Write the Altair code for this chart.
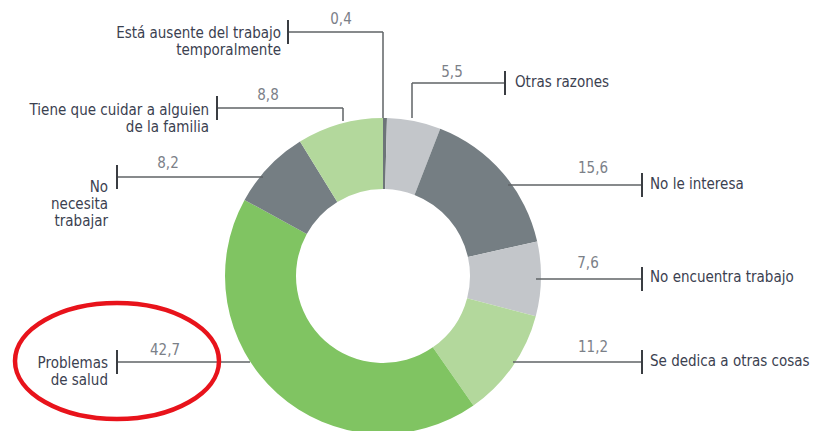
import altair as alt
import pandas as pd

# ---- data ----
categories = [
    "Está ausente del trabajo temporalmente",
    "Otras razones",
    "No le interesa",
    "No encuentra trabajo",
    "Se dedica a otras cosas",
    "Problemas de salud",
    "No necesita trabajar",
    "Tiene que cuidar a alguien de la familia",
]
values = [0.4, 5.5, 15.6, 7.6, 11.2, 42.7, 8.2, 8.8]
value_labels = ["0,4", "5,5", "15,6", "7,6", "11,2", "42,7", "8,2", "8,8"]
label_texts = [
    "Está ausente del trabajo\ntemporalmente",
    "Otras razones",
    "No le interesa",
    "No encuentra trabajo",
    "Se dedica a otras cosas",
    "Problemas\nde salud",
    "No\nnecesita\ntrabajar",
    "Tiene que cuidar a alguien\nde la familia",
]

# ---- styles / layout (reference pixel coords) ----
slice_colors = ["#6d7478", "#c3c6ca", "#757e83", "#c3c6ca", "#b3d89c", "#80c462", "#757e83", "#b3d89c"]
label_side = ["L", "R", "R", "R", "R", "L", "L", "L"]
label_x = [281, 515, 650, 650, 650, 108, 108, 209]
label_y = [33, 82, 184, 277, 361, 363, 187, 110]
value_x = [341, 452, 593, 588, 593, 165, 168, 268]
value_y = [19, 72, 168, 263, 347, 350, 163, 95]
# leader polylines: (x1, y1, x2, y2)
leader_segments = [
    (383, 118, 383, 32), (383, 32, 288, 32),
    (412, 118, 412, 83), (412, 83, 505, 83),
    (508, 185, 642, 185),
    (536, 279, 642, 279),
    (513, 362, 642, 362),
    (250, 362, 117, 362),
    (263, 177, 117, 177),
    (343, 121, 343, 108), (343, 108, 217, 108),
]
tick_x = [288, 505, 642, 642, 642, 117, 117, 217]
tick_y = [32, 83, 185, 279, 362, 362, 177, 108]
tick_half = 12

FONT = "DejaVu Sans Condensed, Liberation Sans, sans-serif"
LABEL_SIZE = 15
W, H = 805, 423
CX, CY = 383, 276

xs = alt.Scale(domain=[8, 8 + W], range=[0, W])
ys = alt.Scale(domain=[8, 8 + H], range=[0, H])

df = pd.DataFrame({
    "cat": categories, "value": values, "idx": list(range(len(values))),
    "vlab": value_labels, "lab": label_texts, "side": label_side,
    "lx": label_x, "ly": label_y, "vx": value_x, "vy": value_y,
    "tx": tick_x, "ty": tick_y,
})
df["ty1"] = df["ty"] - tick_half
df["ty2"] = df["ty"] + tick_half

seg_df = pd.DataFrame(leader_segments, columns=["x1", "y1", "x2", "y2"])

arcs = alt.Chart(df).mark_arc(radius=158, radius2=87).encode(
    theta=alt.Theta("value:Q", stack=True),
    order=alt.Order("idx:Q"),
    color=alt.Color("cat:N", scale=alt.Scale(domain=categories, range=slice_colors), legend=None),
    x=alt.value(CX - 8),
    y=alt.value(CY - 8),
)

leaders = alt.Chart(seg_df).mark_rule(color="#5f6366", strokeWidth=1.5).encode(
    x=alt.X("x1:Q", scale=xs, axis=None),
    y=alt.Y("y1:Q", scale=ys, axis=None),
    x2="x2:Q",
    y2="y2:Q",
)

ticks = alt.Chart(df).mark_rule(color="#3a3d42", strokeWidth=2).encode(
    x=alt.X("tx:Q", scale=xs, axis=None),
    y=alt.Y("ty1:Q", scale=ys, axis=None),
    y2="ty2:Q",
)

left_labels = alt.Chart(df).transform_filter(alt.datum.side == "L").transform_calculate(
    lines="split(datum.lab, '\\n')"
).mark_text(
    align="right", baseline="middle", font=FONT, fontSize=LABEL_SIZE, lineHeight=17, color="#3b4150"
).encode(
    x=alt.X("lx:Q", scale=xs, axis=None),
    y=alt.Y("ly:Q", scale=ys, axis=None),
    text="lines:N",
)

right_labels = alt.Chart(df).transform_filter(alt.datum.side == "R").mark_text(
    align="left", baseline="middle", font=FONT, fontSize=LABEL_SIZE, color="#3b4150"
).encode(
    x=alt.X("lx:Q", scale=xs, axis=None),
    y=alt.Y("ly:Q", scale=ys, axis=None),
    text="lab:N",
)

value_text = alt.Chart(df).mark_text(
    align="center", baseline="middle", font=FONT, fontSize=15, color="#7b8088"
).encode(
    x=alt.X("vx:Q", scale=xs, axis=None),
    y=alt.Y("vy:Q", scale=ys, axis=None),
    text="vlab:N",
)

# highlight ellipse around "Problemas de salud"
ell_df = pd.DataFrame({"ex": [117], "ey": [361]})
ellipse_path = ("M -1 0 C -1 -0.314 -0.552 -0.569 0 -0.569 C 0.552 -0.569 1 -0.314 1 0 "
                "C 1 0.314 0.552 0.569 0 0.569 C -0.552 0.569 -1 0.314 -1 0 Z")
ellipse = alt.Chart(ell_df).mark_point(
    shape=ellipse_path, size=204 * 204, filled=False, color="#e8131b", strokeWidth=4.5, opacity=1
).encode(
    x=alt.X("ex:Q", scale=xs, axis=None),
    y=alt.Y("ey:Q", scale=ys, axis=None),
)

chart = alt.layer(arcs, leaders, ticks, left_labels, right_labels, value_text, ellipse).properties(
    width=W, height=H, autosize=alt.AutoSizeParams(type="none"), padding=0,
).configure_view(stroke=None)

chart.save("out.html", embed_options={"renderer": "svg", "actions": False})
